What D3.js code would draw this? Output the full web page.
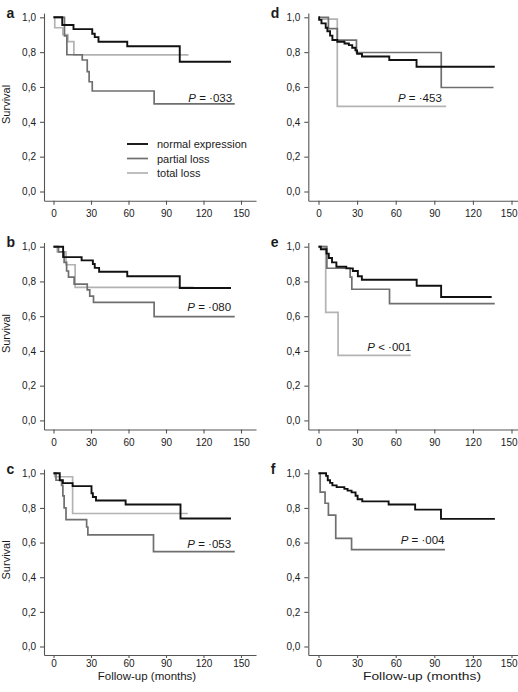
<!DOCTYPE html>
<html><head><meta charset="utf-8">
<script src="https://cdn.jsdelivr.net/npm/d3@7"></script>
<style>
body{margin:0;background:#fff}
svg{display:block}
text{font-family:"Liberation Sans",Arial,Helvetica,sans-serif;fill:#1a1a1a}
</style>
</head><body>
<svg id="chart" width="518" height="692"></svg>
<script>
// ---------- data ----------
const seriesNames = ["normal expression", "partial loss", "total loss"];
const xTicks = [0, 30, 60, 90, 120, 150];
const yTicks = [0, 0.2, 0.4, 0.6, 0.8, 1.0];
const yTickLabels = ["0,0", "0,2", "0,4", "0,6", "0,8", "1,0"];
const panelLetters = ["a", "b", "c", "d", "e", "f"];
const pOperators = ["=", "=", "=", "=", "<", "="];
const pNumbers = ["·033", "·080", "·053", "·453", "·001", "·004"];

// [months, survival] step points; last point = end of follow-up
const aNormal  = [[0,1],[7,0.956],[16,0.932],[31,0.906],[33,0.886],[36,0.86],[59,0.834],[101,0.745],[142,0.745]];
const aPartial = [[0,1],[8.8,0.893],[10.7,0.785],[23,0.755],[27,0.688],[28.5,0.63],[31,0.577],[80.5,0.503],[145,0.503]];
const aTotal   = [[0,1],[1,0.94],[7.5,0.9],[11.5,0.86],[16.3,0.784],[108,0.784]];

const bNormal  = [[0,1],[7.7,0.94],[22.5,0.921],[31.5,0.9],[33,0.878],[36.5,0.856],[59,0.83],[101,0.762],[142,0.762]];
const bPartial = [[0,1],[4,0.97],[8.5,0.91],[10.5,0.86],[12,0.825],[16.5,0.785],[27,0.752],[29,0.715],[32,0.68],[80.5,0.597],[145,0.597]];
const bTotal   = [[0,1],[3,0.97],[10,0.896],[17.3,0.766],[112,0.766]];

const cNormal  = [[0,1],[5,0.96],[7.5,0.943],[15.3,0.926],[30.4,0.885],[31.5,0.863],[34,0.843],[57.7,0.82],[101.6,0.739],[142,0.739]];
const cPartial = [[0,1],[2,0.96],[6.5,0.93],[7.5,0.87],[8.5,0.8],[10,0.732],[26.5,0.69],[27.5,0.645],[80,0.548],[145,0.548]];
const cTotal   = [[0,1],[1,0.98],[15.3,0.768],[107.4,0.768]];

const dNormal  = [[0,1],[0.5,0.985],[2.3,0.965],[5.6,0.94],[6.9,0.92],[9,0.895],[10.8,0.87],[14.6,0.86],[20.2,0.85],[23.6,0.84],[26.2,0.825],[28.7,0.81],[30,0.79],[33.8,0.775],[55,0.755],[76.2,0.716],[137,0.716]];
const dPartial = [[0,1],[7.7,0.935],[14.6,0.869],[29.5,0.798],[95.4,0.597],[136,0.597]];
const dTotal   = [[0,0.99],[14.6,0.489],[99.2,0.489]];

const eNormal  = [[0,1],[1.8,0.985],[6.2,0.96],[8,0.935],[10.5,0.91],[13.9,0.885],[21.6,0.875],[26.7,0.86],[30.6,0.83],[33.7,0.81],[76.3,0.775],[95.3,0.71],[134.6,0.71]];
const ePartial = [[0,1],[6.5,0.876],[24.6,0.825],[25.9,0.755],[55.2,0.672],[137,0.672]];
const eTotal   = [[0,1],[5.6,0.622],[15.2,0.374],[71.7,0.374]];

const fNormal  = [[0,1],[5.9,0.985],[7.2,0.96],[9,0.945],[10.8,0.93],[14.1,0.92],[20.1,0.91],[22.6,0.9],[25.7,0.89],[28.8,0.87],[30.4,0.85],[34,0.838],[54.5,0.82],[75.1,0.79],[95.2,0.737],[137.1,0.737]];
const fPartial = [[0,1],[1.3,0.891],[5.1,0.827],[7.7,0.758],[13.4,0.624],[25.7,0.559],[98.3,0.559]];

const panelSeries = [
  [aNormal, aPartial, aTotal],
  [bNormal, bPartial, bTotal],
  [cNormal, cPartial, cTotal],
  [dNormal, dPartial, dTotal],
  [eNormal, ePartial, eTotal],
  [fNormal, fPartial, null]
];

// ---------- layout / style ----------
const colors = ["#111111", "#6f6f6f", "#b3b3b3"];
const cols = [
  {axisX: 44, x0: 53.5, x150: 241, labelX: 147, labelW: null, lastDx: 0},
  {axisX: 308.3, x0: 318.5, x150: 511.5, labelX: 422, labelW: 118, lastDx: -2.8}
];
const rows = [
  {y1: 17.3, y0: 191.5, axY: 200.7, tick: 4, pad: 5},
  {y1: 246.7, y0: 420.4, axY: 429.5, tick: 4, pad: 5},
  {y1: 473.3, y0: 646.5, axY: 655, tick: 3, pad: 2}
];
const pPos = [[188.3,101.5],[187.3,311],[187.3,547.7],[398,101.7],[367.3,351],[400.7,544.3]];

const svg = d3.select("#chart");

panelLetters.forEach((letter, i) => {
  const col = cols[Math.floor(i / 3)];
  const row = rows[i % 3];
  const x = d3.scaleLinear().domain([0, 150]).range([col.x0, col.x150]);
  const y = d3.scaleLinear().domain([0, 1]).range([row.y0, row.y1]);
  const g = svg.append("g");

  // axes (extended domains so the lines meet at the corner)
  const xa = d3.scaleLinear().domain([x.invert(col.axisX), 162]).range([col.axisX, x(162)]);
  const ya = d3.scaleLinear().domain([y.invert(row.axY), 1.024]).range([row.axY, y(1.024)]);

  const gx = g.append("g").attr("transform", `translate(0,${row.axY})`)
    .call(d3.axisBottom(xa).tickValues(xTicks).tickFormat(d3.format("d")).tickSize(row.tick).tickSizeOuter(0).tickPadding(row.pad));
  const gy = g.append("g").attr("transform", `translate(${col.axisX},0)`)
    .call(d3.axisLeft(ya).tickValues(yTicks).tickFormat((d, k) => yTickLabels[k]).tickSize(4).tickSizeOuter(0).tickPadding(4));
  [gx, gy].forEach(ax => {
    ax.select(".domain").attr("stroke", "#555").attr("stroke-width", 1.1);
    ax.selectAll(".tick line").attr("stroke", "#555").attr("stroke-width", 1.1);
    ax.selectAll(".tick text").attr("font-size", 10).attr("fill", "#1a1a1a")
      .attr("font-family", '"Liberation Sans",Arial,sans-serif');
  });
  gx.selectAll(".tick text").filter(d => d === 150).attr("dx", col.lastDx);

  // curves
  const line = d3.line().x(d => x(d[0])).y(d => y(d[1])).curve(d3.curveStepAfter);
  [2, 1, 0].forEach(s => {
    const data = panelSeries[i][s];
    if (!data) return;
    g.append("path").datum(data).attr("d", line)
      .attr("fill", "none").attr("stroke", colors[s])
      .attr("stroke-width", s === 0 ? 1.9 : 1.7);
  });

  // panel letter
  g.append("text").attr("x", col.axisX - 37.5).attr("y", row.y1 + 0.5)
    .attr("font-size", 14).attr("font-weight", "bold").text(letter);

  // Survival label (left column only)
  if (i < 3) {
    g.append("text").attr("transform", `translate(10,${(row.y0 + row.y1) / 2}) rotate(-90)`)
      .attr("text-anchor", "middle").attr("font-size", 11).text("Survival");
  }
  // Follow-up label (bottom row)
  if (i % 3 === 2) {
    const t = g.append("text").attr("x", col.labelX).attr("y", 680)
      .attr("text-anchor", "middle").attr("font-size", 11.5).text("Follow-up (months)");
    if (col.labelW) t.attr("textLength", col.labelW).attr("lengthAdjust", "spacingAndGlyphs");
  }

  // P value
  const pt = g.append("text").attr("x", pPos[i][0]).attr("y", pPos[i][1]).attr("font-size", 11.5);
  pt.append("tspan").attr("font-style", "italic").text("P");
  pt.append("tspan").text(` ${pOperators[i]} ${pNumbers[i]}`);

  // legend in panel a
  if (i === 0) {
    seriesNames.forEach((name, s) => {
      const ly = 144 + s * 14.5;
      g.append("line").attr("x1", 127).attr("x2", 148).attr("y1", ly).attr("y2", ly)
        .attr("stroke", colors[s]).attr("stroke-width", s === 0 ? 1.9 : 1.7);
      g.append("text").attr("x", 157).attr("y", ly + 4).attr("font-size", 11).text(name);
    });
  }
});
</script>
</body></html>
